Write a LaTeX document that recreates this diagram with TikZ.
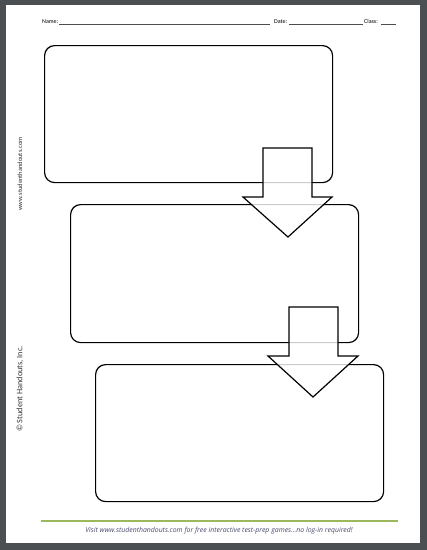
\documentclass[tikz,border=0pt]{standalone}
\usepackage{fontspec}
\setmainfont{Carlito}
\newfontfamily\footfont{Open Sans}
\usetikzlibrary{positioning}
\definecolor{frame}{HTML}{4B4F52}
\definecolor{rulegreen}{HTML}{9DB85C}
\definecolor{footblue}{HTML}{4A4A70}

\begin{document}
\begin{tikzpicture}[x=1pt, y=-1pt]
		\tikzstyle{every node}=[font=\fontsize{6}{7}\selectfont, inner sep=0pt]
		\tikzstyle{flowbox}=[draw, line width=1.2pt, rounded corners=10pt, anchor=north west]
		\tikzstyle{blockarrow}=[draw, line width=1.2pt, fill=white, fill opacity=0.8, line join=miter]
		\tikzstyle{blank}=[line width=0.4pt, color=black!70]
		% page
		\fill [frame] (0,0) rectangle (427,550);
		\fill [white] (6,5) rectangle (420,543);
		\useasboundingbox (0,0) rectangle (427,550);
		% header
		\node [anchor=base west] (name) at (42,23) {Name:};
		\draw [blank] (59,24) -- (270,24);
		\node [anchor=base west] (date) at (274,23) {Date:};
		\draw [blank] (289,24) -- (363,24);
		\node [anchor=base west] (class) at (364,23) {Class:};
		\draw [blank] (381,24) -- (396,24);
		% boxes
		\node [flowbox, minimum width=288pt, minimum height=137pt] (first) at (44,45) {};
		\node [flowbox, minimum width=288pt, minimum height=138pt] (second) at (70,204) {};
		\node [flowbox, minimum width=288pt, minimum height=137pt] (third) at (95,364) {};
		% arrows
		\draw [blockarrow] (263,148) -- (312,148) -- (312,197) -- (332,197) -- (288,237) -- (243,197) -- (263,197) -- cycle;
		\draw [blockarrow] (289,307) -- (338,307) -- (338,356) -- (358,356) -- (313,397) -- (268,356) -- (289,356) -- cycle;
		% side
		\node [rotate=90, font=\fontsize{6.5}{7}\selectfont, text=black!80] (site) at (20,174) {www.studenthandouts.com};
		\node [rotate=90, font=\fontsize{8.3}{9}\selectfont, text=black!80] (copy) at (20,389) {\textcopyright\ Student Handouts, Inc.};
		% footer
		\draw [rulegreen, line width=1.5pt] (41,521) -- (398,521);
		\node [font=\footfont\itshape\fontsize{6.9}{8}\selectfont, text=footblue] (visit) at (219,531) {Visit www.studenthandouts.com for free interactive test-prep games...no log-in required!};
		\end{tikzpicture}
\end{document}
